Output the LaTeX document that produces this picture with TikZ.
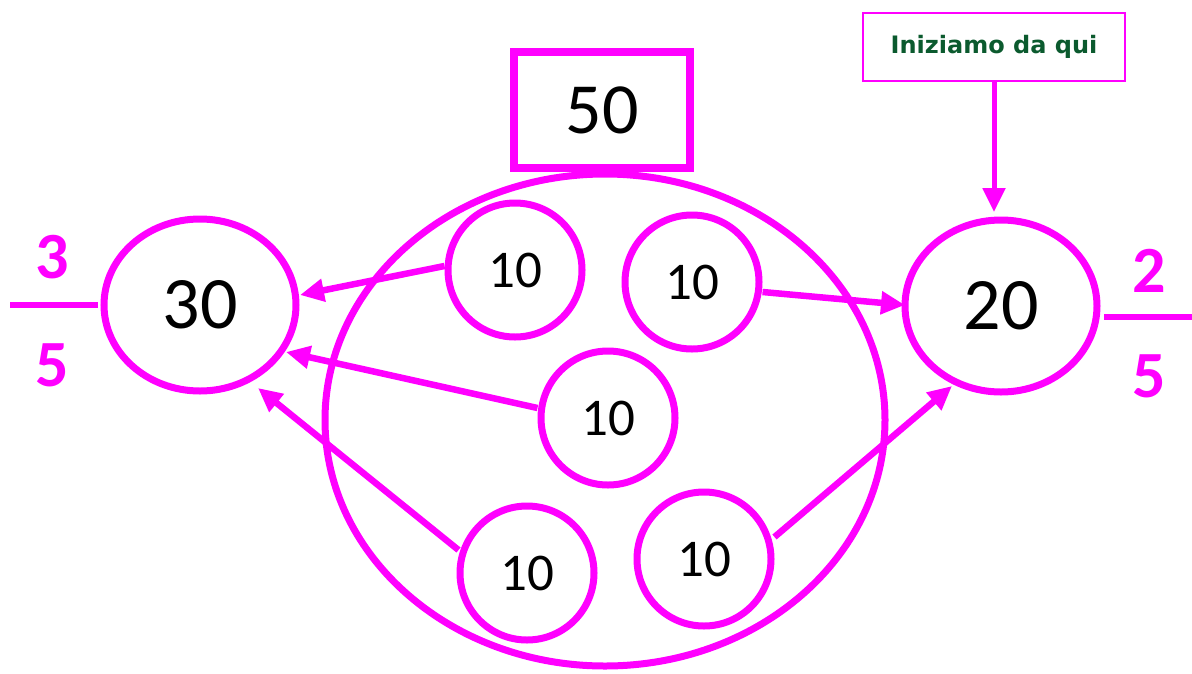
\documentclass[tikz,border=0pt]{standalone}
\usepackage{fontspec}
\setmainfont{Carlito}
\newfontfamily\notefont{DejaVu Sans}
\usetikzlibrary{arrows.meta,shapes.geometric}
\definecolor{mag}{HTML}{FF00FF}
\definecolor{notegreen}{HTML}{0B5A2E}
\begin{document}
\begin{tikzpicture}[x=1pt,y=-1pt,
  small/.style={draw=mag,line width=7pt,circle,minimum size=134pt,inner sep=0pt,font=\fontsize{53}{53}\selectfont},
  big/.style={draw=mag,line width=7pt,ellipse,minimum width=192pt,minimum height=172pt,inner sep=0pt,font=\fontsize{74}{74}\selectfont},
  link/.style={draw=mag,line width=6.5pt,-{Triangle[length=24pt,width=22pt]}},
  frac/.style={text=mag,font=\bfseries\fontsize{66}{66}\selectfont,inner sep=0pt},
  bar/.style={draw=mag,line width=6pt}]
\useasboundingbox (0,0) rectangle (1192,673);
% outer set of fifty
\node[draw=mag,line width=7pt,ellipse,minimum width=560pt,minimum height=492pt,inner sep=0pt] (whole) at (605,420) {};
\node[draw=mag,line width=8pt,fill=white,minimum width=176pt,minimum height=116pt,inner sep=0pt,font=\fontsize{72}{72}\selectfont] (tot) at (602,110) {50};
% the two groups
\node[big] (g30) at (200,305) {30};
\node[big] (g20) at (1001,306) {20};
% the five tens
\node[small] (a) at (515,270) {10};
\node[small] (b) at (692,282) {10};
\node[small] (c) at (608,418) {10};
\node[small] (d) at (527,573) {10};
\node[small] (e) at (704,559) {10};
% arrows from the tens to the groups
\draw[link] (a.west) ++(0,-4) -- (300,295);
\draw[link] (b.east) ++(0,10) -- (905,305);
\draw[link] (c.west) ++(0,-10) -- (286,352);
\draw[link] (d.west) ++(2,-23) -- (258,388);
\draw[link] (e.east) ++(0,-22) -- (952,386);
% starting note
\node[draw=mag,line width=2pt,minimum width=262pt,minimum height=68pt,inner sep=0pt,text=notegreen,font=\notefont\bfseries\fontsize{24}{24}\selectfont] (note) at (994,47) {Iniziamo da qui};
\draw[link,line width=5pt] (note.south) -- (994,212);
% fractions
\node[frac] (n3) at (52,257) {3};
\coordinate (l3a) at (10,305);
\coordinate (l3b) at (98,305);
\draw[bar] (l3a) -- (l3b);
\node[frac] (d3) at (52,365) {5};
\node[frac] (n2) at (1149,271) {2};
\coordinate (l2a) at (1104,317);
\coordinate (l2b) at (1192,317);
\draw[bar] (l2a) -- (l2b);
\node[frac] (d2) at (1149,376) {5};
\end{tikzpicture}
\end{document}
